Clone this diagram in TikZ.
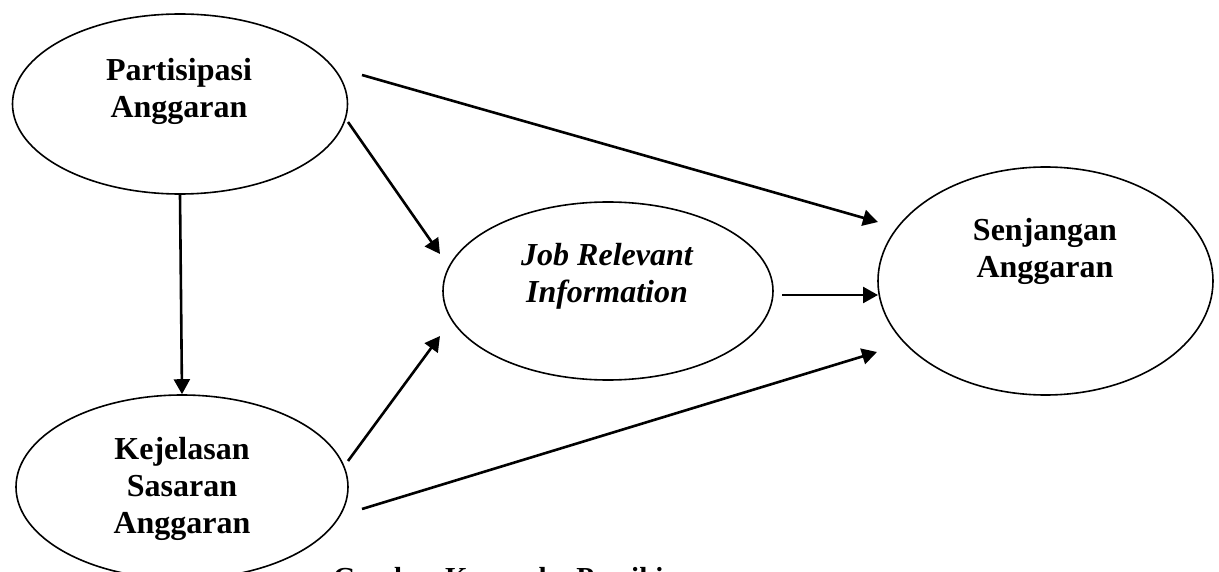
\documentclass[tikz,border=0pt]{standalone}
\usepackage{fontspec}
\setmainfont{Liberation Serif}
\usetikzlibrary{shapes.geometric,arrows.meta}
\tikzset{
  var/.style={draw=black, line width=1.6pt, ellipse, inner sep=0pt},
  lbl/.style={align=center, inner sep=0pt, font=\fontsize{32}{37}\selectfont\bfseries},
  conn/.style={line width=2.6pt, -{Triangle[length=15pt,width=16pt]}}
}
\begin{document}
\begin{tikzpicture}[x=1pt,y=-1pt]
\clip (0,0) rectangle (1219,572);
\fill[white] (0,0) rectangle (1219,572);
% ellipses
\node[var, minimum width=335pt, minimum height=180pt] (pa) at (180,104) {};
\node[var, minimum width=332pt, minimum height=184pt] (kj) at (182,487) {};
\node[var, minimum width=330pt, minimum height=178pt] (jr) at (608,291) {};
\node[var, minimum width=335pt, minimum height=228pt] (sa) at (1045.5,281) {};
% labels
\node[lbl] (pa-t) at (179,91) {Partisipasi\\Anggaran};
\node[lbl] (kj-t) at (182,489) {Kejelasan\\Sasaran\\Anggaran};
\node[lbl] (jr-t) at (607,276) {\itshape Job Relevant\\\itshape Information};
\node[lbl] (sa-t) at (1045,251) {Senjangan\\Anggaran};
% connector ends
\coordinate (a1) at (362,75);   \coordinate (b1) at (878,222);
\coordinate (a2) at (348,122);  \coordinate (b2) at (440,254);
\coordinate (a4) at (348,461);  \coordinate (b4) at (440,336);
\coordinate (a5) at (782,295);  \coordinate (b5) at (878,295);
\coordinate (a6) at (362,509);  \coordinate (b6) at (877,352);
\draw[conn] (a1) -- (b1);
\draw[conn] (a2) -- (b2);
\draw[conn] (pa.south) -- (kj.north);
\draw[conn] (a4) -- (b4);
\draw[conn] (a5) -- (b5);
\draw[conn] (a6) -- (b6);
% caption (cut off at the bottom edge, as in the reference)
\node[anchor=base west, inner sep=0pt, font=\fontsize{29}{34}\selectfont\bfseries] (cap) at (333,587) {Gambar Kerangka Pemikiran};
\end{tikzpicture}
\end{document}
